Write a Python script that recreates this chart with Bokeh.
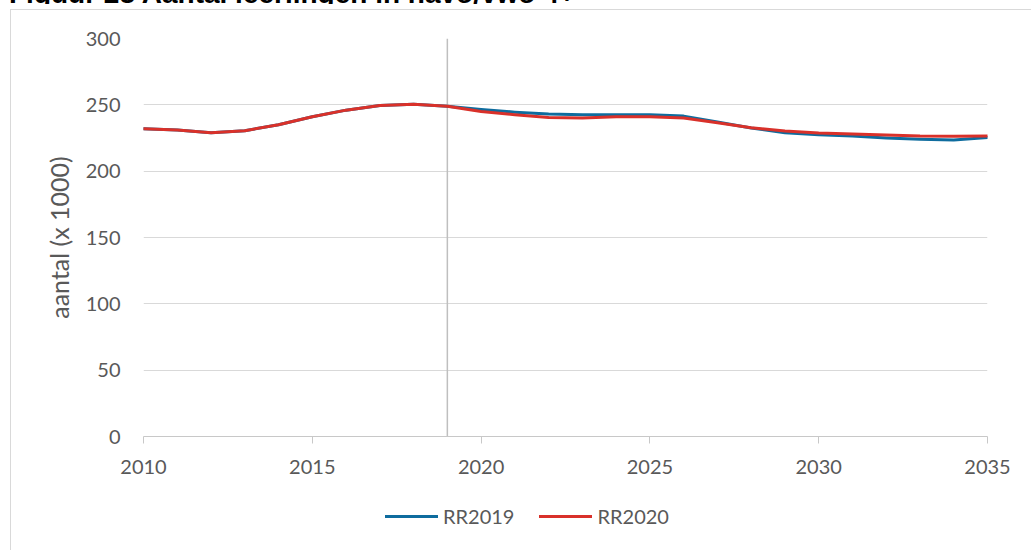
from bokeh.plotting import figure
from bokeh.models import FixedTicker, Legend, LegendItem, Range1d, Div
from bokeh.layouts import column
from bokeh.embed import file_html
from bokeh.resources import INLINE

# ---- data ----
years = list(range(2010, 2036))
rr2019 = [232, 231, 229, 230.5, 235, 241, 246, 249.5, 250.5, 249,
          246.5, 244.5, 243, 242.5, 242.5, 242.5, 241.5, 237, 232.5, 229,
          227.5, 226.5, 225, 224, 223.5, 225.3]
rr2020 = [232, 231, 229, 230.5, 235, 241, 246, 249.5, 250.5, 249,
          245, 242.5, 240.5, 240, 241, 241, 240, 236.5, 232.8, 230.3,
          228.8, 228, 227.3, 226.5, 226.3, 226.6]
series_names = ["RR2019", "RR2020"]
series_colors = ["#0E6C9E", "#D9312A"]
x_ticks = [2010, 2015, 2020, 2025, 2030, 2035]
y_ticks = [0, 50, 100, 150, 200, 250, 300]
prognosis_start = 2019
title_text = "Figuur 28 Aantal leerlingen in havo/vwo 4+"
y_label = "aantal (x 1000)"

TXT = "#595959"
FONT = "Lato"

title_div = Div(
    text=('<div style="position:relative; top:-17px; left:12px; white-space:nowrap; '
          'font-family:\'Liberation Sans\', Arial, sans-serif; font-weight:bold; '
          'font-size:28px; line-height:28px; color:#000;">' + title_text + '</div>'),
    width=1031, height=7,
    styles={"overflow": "hidden"},
)

# ---- main chart ----
p = figure(width=1020, height=480,
           x_range=Range1d(x_ticks[0], x_ticks[-1]), y_range=Range1d(y_ticks[0], y_ticks[-1]),
           output_backend="svg", toolbar_location=None,
           min_border_left=132, min_border_right=44,
           min_border_top=28, min_border_bottom=54)
p.outline_line_color = None
p.background_fill_color = "white"
p.border_fill_color = "white"

p.xgrid.grid_line_color = None
p.ygrid.grid_line_color = "#d9d9d9"
p.ygrid.grid_line_width = 1

p.xaxis.ticker = FixedTicker(ticks=x_ticks)
p.yaxis.ticker = FixedTicker(ticks=y_ticks)

p.xaxis.axis_line_color = "#c8c8c8"
p.xaxis.major_tick_line_color = "#c8c8c8"
p.xaxis.major_tick_out = 7
p.xaxis.major_tick_in = 0
p.xaxis.minor_tick_line_color = None
p.xaxis.major_label_standoff = 16
p.xaxis.major_label_text_font = FONT
p.xaxis.major_label_text_font_size = "20px"
p.xaxis.major_label_text_color = TXT

p.yaxis.axis_line_color = None
p.yaxis.major_tick_line_color = None
p.yaxis.minor_tick_line_color = None
p.yaxis.major_tick_out = 0
p.yaxis.major_tick_in = 0
p.yaxis.major_label_standoff = 23
p.yaxis.major_label_text_font = FONT
p.yaxis.major_label_text_font_size = "20px"
p.yaxis.major_label_text_color = TXT
p.yaxis.axis_label = y_label
p.yaxis.axis_label_text_font = FONT
p.yaxis.axis_label_text_font_size = "25px"
p.yaxis.axis_label_text_font_style = "normal"
p.yaxis.axis_label_text_color = TXT
p.yaxis.axis_label_standoff = 9

# vertical line marking the start of the forecast
p.segment(x0=[prognosis_start], y0=[y_ticks[0]], x1=[prognosis_start], y1=[y_ticks[-1]],
          line_color="#bfbfbf", line_width=1.5)

p.line(years, rr2019, line_color=series_colors[0], line_width=3, line_join="round", line_cap="round")
p.line(years, rr2020, line_color=series_colors[1], line_width=3, line_join="round", line_cap="round")

# ---- legend strip (series drawn out of view; only the legend shows) ----
lg = figure(width=1020, height=60, x_range=Range1d(0, 1), y_range=Range1d(0, 1),
            output_backend="svg", toolbar_location=None,
            x_axis_type=None, y_axis_type=None, min_border=0)
lg.grid.visible = False
lg.outline_line_color = None
lg.background_fill_color = "white"
lg.border_fill_color = "white"
l1 = lg.line(years, rr2019, line_color=series_colors[0], line_width=3, line_cap="round")
l2 = lg.line(years, rr2020, line_color=series_colors[1], line_width=3, line_cap="round")
legend = Legend(items=[LegendItem(label=series_names[0], renderers=[l1]),
                       LegendItem(label=series_names[1], renderers=[l2])],
                location=(242, 22), orientation="horizontal",
                glyph_width=53, glyph_height=20,
                label_standoff=5, spacing=25,
                padding=0, margin=0, border_line_color=None,
                background_fill_alpha=0,
                label_text_font=FONT, label_text_font_size="20px",
                label_text_color=TXT)
lg.add_layout(legend)

inner = column(p, lg, spacing=0, margin=(1, 0, 0, 19),
               styles={"outline": "1px solid #d9d9d9"})
root = column(title_div, inner, spacing=0, margin=(-8, 0, 0, -8))

open("out.html", "w").write(file_html(root, INLINE))
